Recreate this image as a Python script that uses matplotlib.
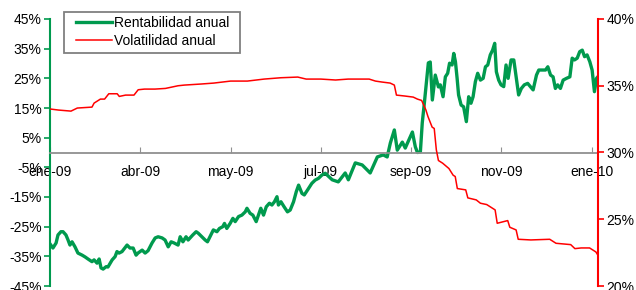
import matplotlib
matplotlib.use("Agg")
import matplotlib.pyplot as plt
from matplotlib.patches import Rectangle
from matplotlib.ticker import FuncFormatter

plt.rcParams['font.family'] = ['Liberation Sans', 'DejaVu Sans']

# position in trading days from the start of ene-09, and values
ret_day = [0, 1.4, 2.9, 3.8, 5.2, 6.2, 7.6, 8.6, 9.5, 10.5, 11.9, 13.3, 15.3, 16.7, 18.1, 20.0, 21.0, 22.4, 23.4, 24.3,
           25.3, 26.7, 27.6, 29.6, 31.0, 31.9, 32.9, 34.3, 36.7, 38.1, 39.6, 41.0, 41.9, 43.9, 45.3, 46.7, 48.6, 50.1, 51.5, 53.4,
           54.8, 56.3, 57.7, 59.1, 61.0, 62.0, 63.3, 64.8, 65.8, 68.0, 69.6, 70.6, 72.3, 73.9, 75.0, 76.6, 77.8, 79.5, 80.7, 82.3,
           83.1, 84.2, 85.8, 87.1, 88.2, 89.8, 91.4, 93.0, 93.8, 95.3, 96.6, 98.2, 99.3, 100.4, 101.7, 103.0, 104.5, 105.7, 106.9, 108.1,
           108.8, 110.0, 111.5, 113.1, 114.4, 116.0, 117.3, 118.4, 120.0, 121.1, 122.7, 124.7, 126.3, 127.9, 129.5, 131.1, 134.4, 137.3, 140.6, 142.1,
           145.4, 148.7, 152.5, 155.9, 158.7, 160.6, 162.1, 164.0, 165.4, 167.8, 169.2, 172.6, 174.0, 175.0, 176.4, 177.3, 178.3, 180.2, 181.1, 182.1,
           183.5, 185.0, 185.9, 187.2, 188.3, 189.4, 190.3, 191.5, 192.3, 193.1, 193.9, 194.6, 195.8, 197.0, 198.3, 199.4, 200.5, 201.5, 202.6, 203.7,
           205.0, 206.3, 207.4, 208.5, 209.7, 210.8, 211.8, 212.6, 213.7, 214.8, 216.1, 217.2, 218.2, 219.6, 220.9, 222.1, 223.2, 224.5, 225.9, 227.5,
           228.8, 230.1, 231.7, 232.8, 234.4, 236.0, 237.1, 238.4, 239.6, 240.7, 241.8, 243.1, 244.4, 246.0, 247.6, 248.7, 249.8, 251.1, 252.3, 253.5,
           254.6, 255.8, 257.1, 258.2, 259.3, 260.3, 260.9]
ret_val = [-30.8, -32.2, -30.5, -27.8, -26.7, -26.7, -27.8, -29.5, -31.2, -30.1, -31.8, -33.9, -34.6, -35.2, -35.9, -36.8, -36.2, -37.3, -35.9, -38.9,
           -39.3, -38.5, -38.6, -36.2, -35.1, -33.4, -33.9, -33.4, -31.2, -32.2, -32.2, -34.6, -33.9, -32.9, -33.9, -33.1, -30.5, -28.8, -28.4, -28.8,
           -29.5, -31.8, -30.1, -30.5, -31.2, -28.4, -30.1, -28.4, -29.5, -27.8, -26.7, -27.2, -28.4, -29.5, -30.1, -27.8, -26.1, -26.7, -25.6, -25.0,
           -23.9, -25.6, -23.9, -22.2, -23.3, -21.6, -21.1, -20.0, -18.8, -20.5, -21.1, -23.3, -21.1, -18.8, -21.1, -18.3, -17.1, -17.7, -16.6, -14.9,
           -17.7, -16.6, -18.3, -20.0, -19.4, -16.6, -13.2, -11.0, -13.8, -14.3, -12.6, -10.4, -9.3, -8.7, -7.6, -7.0, -9.2, -9.9, -6.9, -9.2,
           -3.5, -4.2, -6.9, -1.5, -0.8, -1.5, 3.2, 7.6, 0.8, 3.5, 1.5, 6.9, 1.9, 0.0, 0.2, 10.0, 16.7, 30.2, 30.5, 17.7,
           26.1, 22.1, 22.8, 18.8, 25.5, 26.7, 30.1, 29.5, 33.4, 30.6, 25.0, 19.4, 16.0, 15.4, 10.4, 18.8, 16.6, 18.8, 23.9, 26.7,
           24.4, 25.0, 28.9, 29.5, 32.9, 34.5, 36.8, 27.2, 24.4, 22.8, 22.2, 29.5, 25.0, 31.2, 31.2, 25.0, 19.4, 21.6, 22.8, 23.3,
           22.2, 21.1, 26.1, 27.8, 27.8, 27.8, 28.9, 26.1, 25.5, 21.6, 22.8, 21.6, 24.4, 25.0, 25.5, 31.8, 31.2, 31.8, 34.0, 34.5,
           32.3, 32.9, 30.6, 27.8, 20.5, 25.0, 25.5]

vol_day = [0, 4, 10, 13, 20, 21, 24, 26, 28, 32, 33, 36, 40, 42, 45, 50, 55, 61, 64, 72,
           78, 86, 94, 102, 110, 118, 122, 129, 136, 142, 152, 155, 158, 162, 164, 165, 169, 173, 175, 177,
           179, 180, 182, 183, 184, 185, 187, 190, 192, 193, 194, 198, 199, 203, 205, 208, 211, 212, 213, 218,
           219, 222, 223, 229, 238, 241, 248, 250, 253, 257, 260, 261]
vol_val = [33.26, 33.18, 33.1, 33.33, 33.4, 33.7, 34.0, 34.0, 34.4, 34.4, 34.2, 34.3, 34.3, 34.7, 34.75, 34.75, 34.8, 35.0, 35.05, 35.13,
           35.2, 35.35, 35.35, 35.5, 35.6, 35.65, 35.5, 35.5, 35.43, 35.5, 35.5, 35.35, 35.28, 35.2, 35.05, 34.3, 34.23, 34.15, 34.0, 33.9,
           33.2, 32.7, 31.9, 31.8, 30.2, 29.4, 29.2, 28.8, 28.3, 28.2, 27.3, 27.2, 26.6, 26.45, 26.2, 26.1, 25.8, 25.7, 24.7, 24.9,
           24.4, 24.2, 23.5, 23.45, 23.5, 23.2, 23.1, 22.8, 22.85, 22.85, 22.55, 22.3]

tick_days = [0, 43, 86, 129, 172, 215, 258]
tick_labels = ['ene-09', 'abr-09', 'may-09', 'jul-09', 'sep-09', 'nov-09', 'ene-10']

green = '#009A4E'
red = '#FF0000'
pct = FuncFormatter(lambda v, p: '%d%%' % v)

fig = plt.figure(figsize=(6.36, 2.90), dpi=100)
ax = fig.add_axes([50/636, 1-286/290, 548/636, 267/290])
l1, = ax.plot(ret_day, ret_val, color=green, lw=2.4, label='Rentabilidad anual', solid_joinstyle='round')
ax.set_xlim(0, 261)
ax.set_ylim(-45, 45)
ax.set_yticks(range(-45, 46, 10))
ax.yaxis.set_major_formatter(pct)

ax2 = ax.twinx()
l2, = ax2.plot(vol_day, vol_val, color=red, lw=1.1, label='Volatilidad anual')
ax2.set_ylim(20, 40)
ax2.set_yticks(range(20, 41, 5))
ax2.yaxis.set_major_formatter(pct)

for a in (ax, ax2):
    a.spines['top'].set_visible(False)
    a.set_facecolor('none')
ax.spines['right'].set_visible(False)
ax2.spines['left'].set_visible(False)
ax2.spines['bottom'].set_visible(False)
ax.spines['left'].set_color(green)
ax.spines['left'].set_linewidth(1.5)
ax2.spines['right'].set_color(red)
ax2.spines['right'].set_linewidth(1.5)

ax.spines['bottom'].set_position(('data', 0))
ax.spines['bottom'].set_color('#909090')
ax.spines['bottom'].set_linewidth(1.3)
ax.set_xticks(tick_days)
ax.set_xticklabels(tick_labels)
ax.tick_params(axis='x', direction='in', length=4, color='#909090', pad=9, labelsize=10)
ax.tick_params(axis='y', direction='out', length=4, color=green, width=1.2, labelsize=10, pad=2)
ax2.tick_params(axis='y', direction='out', length=4, color=red, width=1.2, labelsize=10, pad=2)

# legend box drawn by hand so the inner padding matches
box = Rectangle((64/636, 1-53/290), 176/636, 41/290, transform=fig.transFigure,
                facecolor='white', edgecolor='#808080', lw=1.3, zorder=3)
fig.patches.append(box)
leg = fig.legend([l1, l2], ['Rentabilidad anual', 'Volatilidad anual'], loc='upper left',
                 bbox_to_anchor=(76/636, 1-16/290), frameon=False, fontsize=10,
                 handlelength=2.6, handletextpad=0.15, borderpad=0, borderaxespad=0,
                 labelspacing=0.3)
leg.set_zorder(4)

fig.savefig('out.png', dpi=100)
